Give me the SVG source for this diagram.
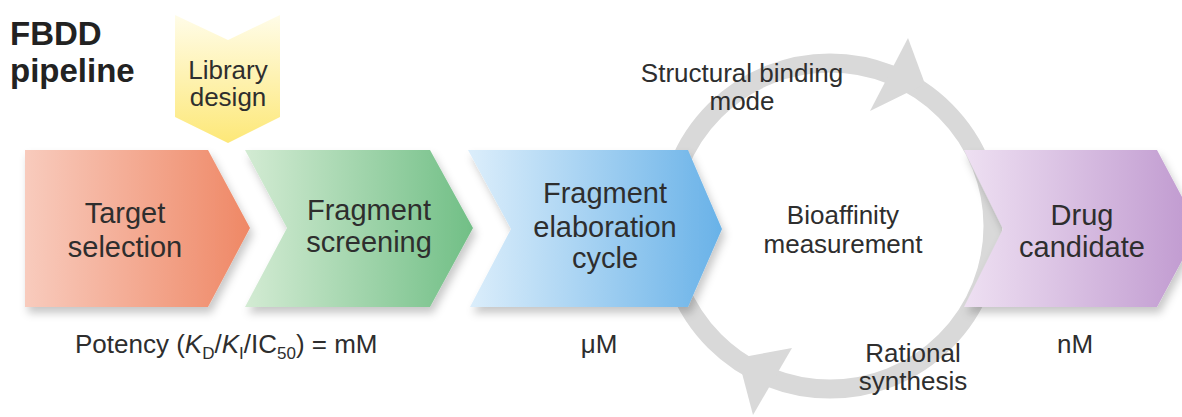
<svg xmlns="http://www.w3.org/2000/svg" width="1182" height="417" viewBox="0 0 1182 417">
  <defs>
    <linearGradient id="gRed" x1="0" y1="0" x2="1" y2="0">
      <stop offset="0" stop-color="#f8cbbd"/>
      <stop offset="1" stop-color="#ef8866"/>
    </linearGradient>
    <linearGradient id="gGreen" x1="0" y1="0" x2="1" y2="0">
      <stop offset="0" stop-color="#d3ebd3"/>
      <stop offset="1" stop-color="#71bf86"/>
    </linearGradient>
    <linearGradient id="gBlue" x1="0" y1="0" x2="1" y2="0">
      <stop offset="0" stop-color="#dceefb"/>
      <stop offset="1" stop-color="#69b2e8"/>
    </linearGradient>
    <linearGradient id="gPurple" x1="0" y1="0" x2="1" y2="0">
      <stop offset="0" stop-color="#eee0f2"/>
      <stop offset="1" stop-color="#bf98cf"/>
    </linearGradient>
    <linearGradient id="gYellow" x1="0" y1="0" x2="0" y2="1">
      <stop offset="0" stop-color="#fffce8"/>
      <stop offset="1" stop-color="#fde878"/>
    </linearGradient>
    <filter id="shadow" x="-10%" y="-10%" width="125%" height="130%">
      <feDropShadow dx="3" dy="6" stdDeviation="4" flood-color="#000" flood-opacity="0.22"/>
    </filter>
  </defs>
  <style>
    text { font-family: "Liberation Sans", Arial, sans-serif; fill: #2e2e2e; }
    .title { font-weight: bold; font-size: 33px; fill: #222; }
    .box { font-size: 29px; text-anchor: middle; }
    .lib { font-size: 26px; text-anchor: middle; }
    .cyc { font-size: 26px; text-anchor: middle; }
    .pot { font-size: 26px; }
    .sub { font-size: 17px; }
    .ring { fill: none; stroke: #d9d9d9; stroke-width: 19; }
    .head { fill: #d9d9d9; }
  </style>
  <rect width="1182" height="417" fill="#ffffff"/>

  <g id="title">
    <text class="title" x="10" y="45">FBDD</text>
    <text class="title" x="10" y="82">pipeline</text>
  </g>

  <g id="connectors">
    <circle class="ring" cx="830" cy="226" r="163"/>
    <polygon class="head" points="908,38 925,84 870,111"/>
    <polygon class="head" points="753,415 738,358 792,348"/>
  </g>

  <g id="library-design">
    <polygon points="175,15 228,40 280,15 280,117 228,143 175,117" fill="url(#gYellow)"/>
    <text class="lib" x="228" y="79">Library</text>
    <text class="lib" x="228" y="106">design</text>
  </g>

  <g id="target-selection">
    <polygon points="25,150 208,150 250,228 208,307 25,307" fill="url(#gRed)" filter="url(#shadow)"/>
    <text class="box" x="125" y="223">Target</text>
    <text class="box" x="125" y="257">selection</text>
  </g>

  <g id="fragment-screening">
    <polygon points="245,150 430,150 473,228 430,307 245,307 287,228" fill="url(#gGreen)" filter="url(#shadow)"/>
    <text class="box" x="369" y="220">Fragment</text>
    <text class="box" x="369" y="252">screening</text>
  </g>

  <g id="fragment-elaboration">
    <polygon points="468,150 688,150 722,229 688,307 470,307 511,229" fill="url(#gBlue)" filter="url(#shadow)"/>
    <text class="box" x="605" y="203">Fragment</text>
    <text class="box" x="605" y="237">elaboration</text>
    <text class="box" x="605" y="268">cycle</text>
  </g>

  <g id="drug-candidate">
    <polygon points="964,150 1157,150 1199,229 1157,307 964,307 1003,229" fill="url(#gPurple)" filter="url(#shadow)"/>
    <text class="box" x="1082" y="225">Drug</text>
    <text class="box" x="1082" y="257">candidate</text>
  </g>

  <g id="cycle-labels">
    <text class="cyc" x="742" y="82">Structural binding</text>
    <text class="cyc" x="742" y="110">mode</text>
    <text class="cyc" x="843" y="224">Bioaffinity</text>
    <text class="cyc" x="843" y="253">measurement</text>
    <text class="cyc" x="913" y="362">Rational</text>
    <text class="cyc" x="913" y="390">synthesis</text>
  </g>

  <g id="potency">
    <text class="pot" x="75" y="353">Potency (<tspan font-style="italic">K</tspan><tspan class="sub" dy="6">D</tspan><tspan dy="-6">/</tspan><tspan font-style="italic">K</tspan><tspan class="sub" dy="6">I</tspan><tspan dy="-6">/IC</tspan><tspan class="sub" dy="6">50</tspan><tspan dy="-6">) = mM</tspan></text>
    <text class="pot" x="599" y="353" text-anchor="middle">μM</text>
    <text class="pot" x="1075" y="353" text-anchor="middle">nM</text>
  </g>
</svg>
